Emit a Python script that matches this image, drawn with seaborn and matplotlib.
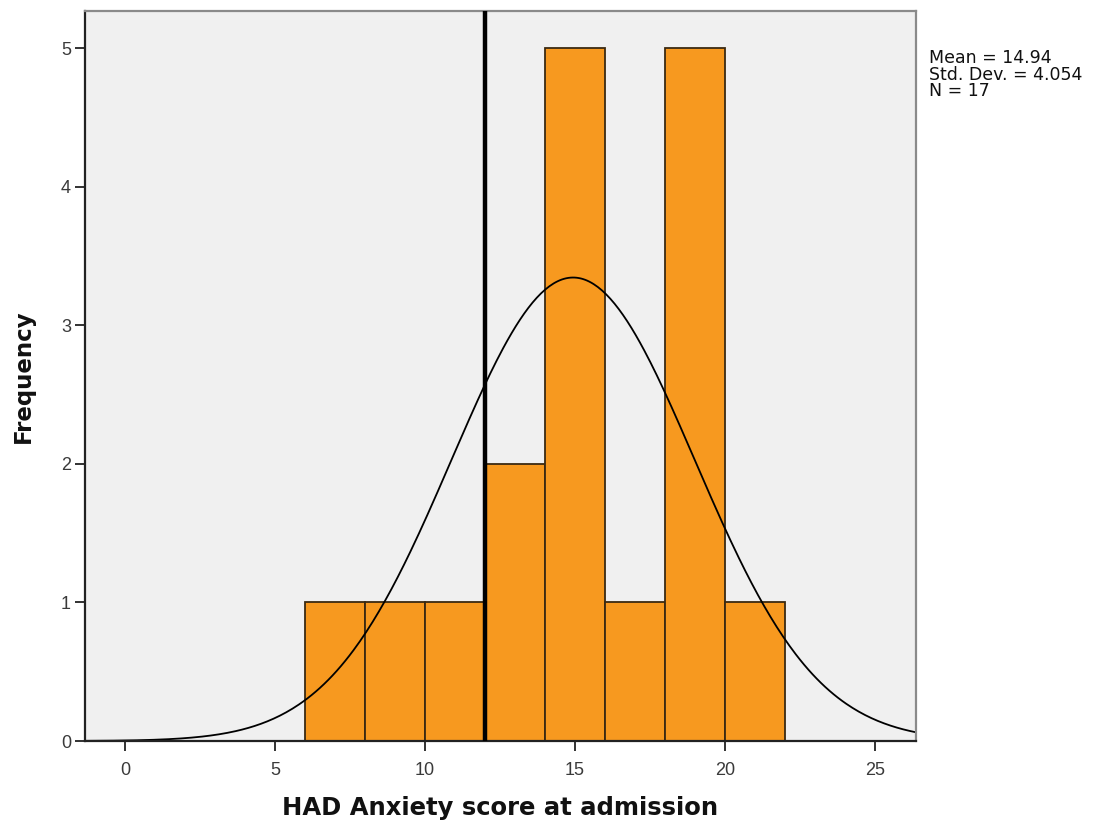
import numpy as np
import pandas as pd
import matplotlib
matplotlib.use("Agg")
import matplotlib.pyplot as plt
import seaborn as sns

# Histogram of HAD anxiety scores (bin edges and frequencies)
bin_edges = [6, 8, 10, 12, 14, 16, 18, 20, 22]
counts = [1, 1, 1, 2, 5, 1, 5, 1]

# Summary statistics shown beside the plot
mean_score = 14.94
std_dev = 4.054
n_cases = 17

cutoff = 12
x_ticks = [0, 5, 10, 15, 20, 25]
y_ticks = [0, 1, 2, 3, 4, 5]

sns.set_theme(style="white")
plt.rcParams["font.family"] = ["Liberation Sans", "DejaVu Sans"]

fig = plt.figure(figsize=(11, 8.25), dpi=100)
ax = fig.add_axes([85 / 1100, 1 - 741 / 825, (916 - 85) / 1100, (741 - 11) / 825])
ax.set_facecolor("#f0f0f0")

centers = [(a + b) / 2 for a, b in zip(bin_edges[:-1], bin_edges[1:])]
df = pd.DataFrame({"score": centers, "count": counts})
sns.histplot(data=df, x="score", weights="count", bins=bin_edges, ax=ax,
             color="#f7991f", alpha=1.0, edgecolor="#3b2a12", linewidth=1.3)

# Fitted normal curve scaled to counts
bin_width = bin_edges[1] - bin_edges[0]
xs = np.linspace(-1.5, 26.5, 400)
ys = n_cases * bin_width / (std_dev * np.sqrt(2 * np.pi)) * np.exp(-0.5 * ((xs - mean_score) / std_dev) ** 2)
sns.lineplot(x=xs, y=ys, ax=ax, color="black", linewidth=1.3)

ax.axvline(cutoff, color="black", linewidth=3.2, zorder=5)

ax.set_xlim(-1.33, 26.37)
ax.set_ylim(0, 5.27)
ax.set_xticks(x_ticks)
ax.set_yticks(y_ticks)
ax.tick_params(axis="both", direction="out", length=7, width=1.3, color="#222222",
               labelsize=13, labelcolor="#3a3a3a", bottom=True, left=True)
ax.tick_params(axis="x", pad=8)
ax.tick_params(axis="y", pad=3)

for side in ["left", "bottom"]:
    ax.spines[side].set_color("#222222")
    ax.spines[side].set_linewidth(1.6)
for side in ["top", "right"]:
    ax.spines[side].set_color("#8a8a8a")
    ax.spines[side].set_linewidth(1.6)

ax.set_xlabel("HAD Anxiety score at admission", fontsize=17.5, fontweight="bold",
              family="DejaVu Sans", color="#111111", labelpad=12)
ax.set_ylabel("Frequency", fontsize=16.5, fontweight="bold",
              family="DejaVu Sans", color="#111111", labelpad=19)

fig.text(929 / 1100, 1 - 49 / 825,
         f"Mean = {mean_score:.2f}\nStd. Dev. = {std_dev:.3f}\nN = {n_cases}",
         fontsize=12.5, family="DejaVu Sans", color="#111111",
         va="top", ha="left", linespacing=0.9)

fig.savefig("out.png", dpi=100, facecolor="white")
